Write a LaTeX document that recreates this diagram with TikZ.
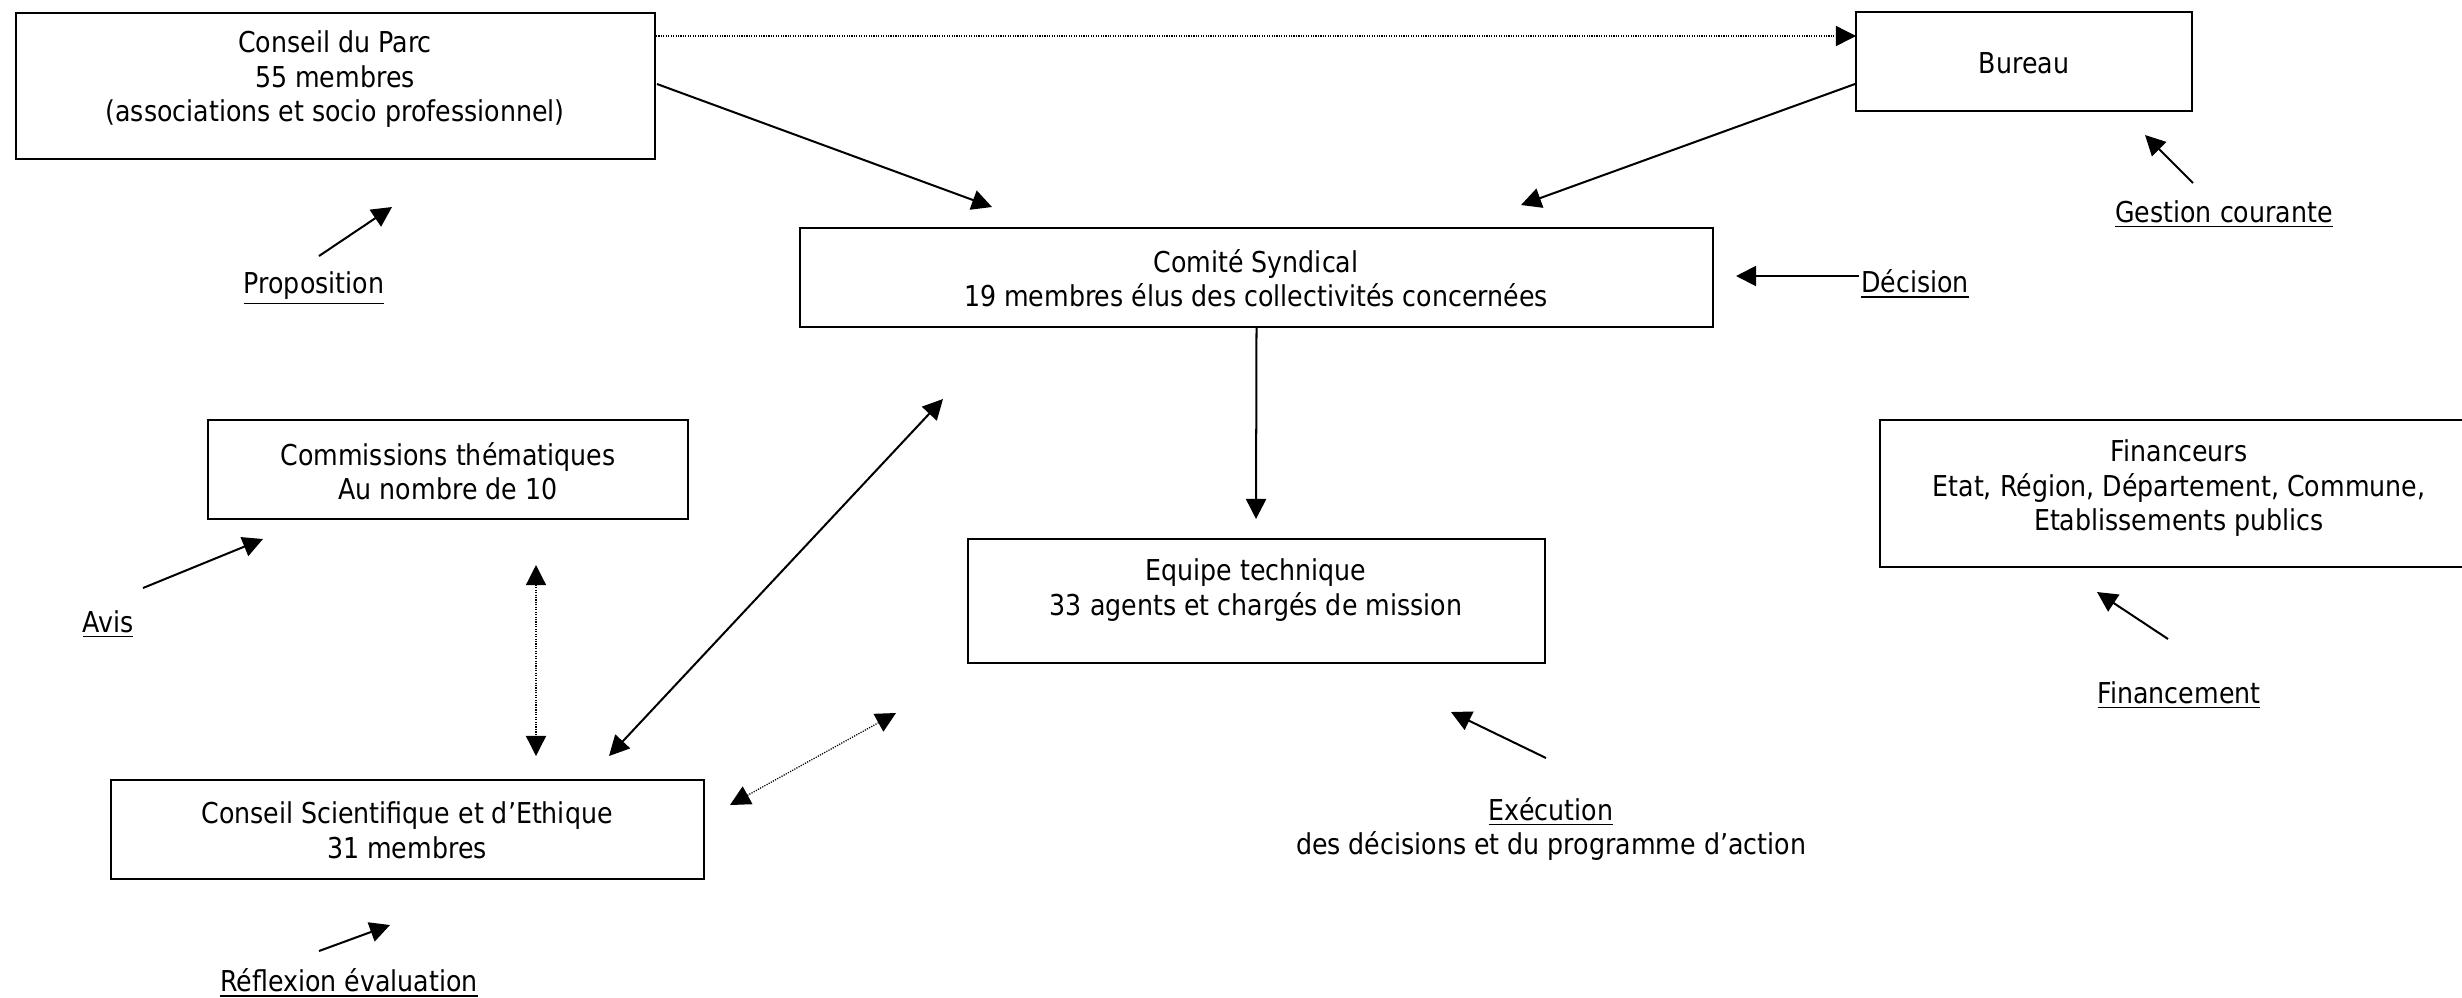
\documentclass[tikz,border=0pt]{standalone}
\usepackage{fontspec}
\setmainfont{DejaVu Sans}[FakeStretch=0.88]
\usetikzlibrary{arrows.meta,fit}
\begin{document}
\begin{tikzpicture}[x=0.348pt,y=-0.348pt,
  box/.style={draw, line width=0.8pt, inner sep=0pt},
  txt/.style={align=center, inner sep=0pt, yshift=-1.1pt, font=\fontsize{10}{12}\selectfont},
  tip/.style={-{Triangle[length=7pt,width=7pt]}},
  arr/.style={line width=0.7pt, tip},
  darr/.style={line width=0.7pt, {Triangle[length=7pt,width=7pt]}-{Triangle[length=7pt,width=7pt]}},
  dots/.style={line width=0.45pt, dash pattern=on 0.4pt off 0.45pt}]
\useasboundingbox (0,0) rectangle (2462,997);
\fill[white] (0,0) rectangle (2462,997);

% boxes
\node[box, fit={(16,13) (655,159)}] (cdp) {};
\node[box, fit={(1856,12) (2192,111)}] (bur) {};
\node[box, fit={(800,228) (1713,327)}] (cs) {};
\node[box, fit={(208,420) (688,519)}] (ct) {};
\node[box, fit={(968,539) (1545,663)}] (et) {};
\begin{scope}
  \clip (0,0) rectangle (2462,997);
  \node[box, fit={(1880,420) (2480,567)}] (fin) {};
\end{scope}
\node[box, fit={(111,780) (704,879)}] (cse) {};

% box texts
\node[txt] (cdpT) at (335,76) {Conseil du Parc\\55 membres\\(associations et socio professionnel)};
\node[txt] (burT) at (2024,60) {Bureau};
\node[txt] (csT) at (1256,275) {Comité Syndical\\19 membres élus des collectivités concernées};
\node[txt] (ctT) at (448,468) {Commissions thématiques\\Au nombre de 10};
\node[txt] (etT) at (1256,587) {Equipe technique\\33 agents et chargés de mission};
\node[txt] (finT) at (2179,485) {Financeurs\\Etat, Région, Département, Commune,\\Etablissements publics};
\node[txt] (cseT) at (407,827) {Conseil Scientifique et d’Ethique\\31 membres};

% labels
\node[txt] (lprop) at (314,285) {\underline{Proposition}};
\node[txt] (lgest) at (2224,211) {\underline{Gestion courante}};
\node[txt] (ldec) at (1915,281) {\underline{Décision}};
\node[txt] (lavis) at (108,621) {\underline{Avis}};
\node[txt] (lfin) at (2179,692) {\underline{Financement}};
\node[txt] (lexe) at (1551,826) {\underline{Exécution}\\des décisions et du programme d’action};
\node[txt] (lref) at (349,980) {\underline{Réflexion évaluation}};

% connector end points
\coordinate (d1a) at (656,36);   \coordinate (d1b) at (1856,36);
\coordinate (c1a) at (657,84);   \coordinate (c1b) at (992,207);
\coordinate (c2a) at (1855,84);  \coordinate (c2b) at (1521,205);
\coordinate (c3b) at (1256,519);
\coordinate (decA) at (1859,276); \coordinate (decB) at (1736,276);
\coordinate (gesA) at (2193,183); \coordinate (gesB) at (2145,135);
\coordinate (proA) at (319,256);  \coordinate (proB) at (392,207);
\coordinate (avA) at (143,588);   \coordinate (avB) at (263,539);
\coordinate (vA) at (536,565);    \coordinate (vB) at (536,756);
\coordinate (sA) at (609,756);    \coordinate (sB) at (943,399);
\coordinate (eA) at (730,805);    \coordinate (eB) at (896,713);
\coordinate (exA) at (1546,758);  \coordinate (exB) at (1451,712);
\coordinate (fA) at (2168,639);   \coordinate (fB) at (2097,592);
\coordinate (rA) at (319,951);    \coordinate (rB) at (390,925);

% connectors
\draw[dots, tip] (d1a) -- (d1b);
\draw[arr] (c1a) -- (c1b);
\draw[arr] (c2a) -- (c2b);
\draw[arr] (cs.south) -- (c3b);
\draw[arr] (decA) -- (decB);
\draw[arr] (gesA) -- (gesB);
\draw[arr] (proA) -- (proB);
\draw[arr] (avA) -- (avB);
\draw[dots, {Triangle[length=7pt,width=7pt]}-{Triangle[length=7pt,width=7pt]}] (vA) -- (vB);
\draw[darr] (sA) -- (sB);
\draw[dots, {Triangle[length=7pt,width=7pt]}-{Triangle[length=7pt,width=7pt]}] (eA) -- (eB);
\draw[arr] (exA) -- (exB);
\draw[arr] (fA) -- (fB);
\draw[arr] (rA) -- (rB);
\end{tikzpicture}
\end{document}
